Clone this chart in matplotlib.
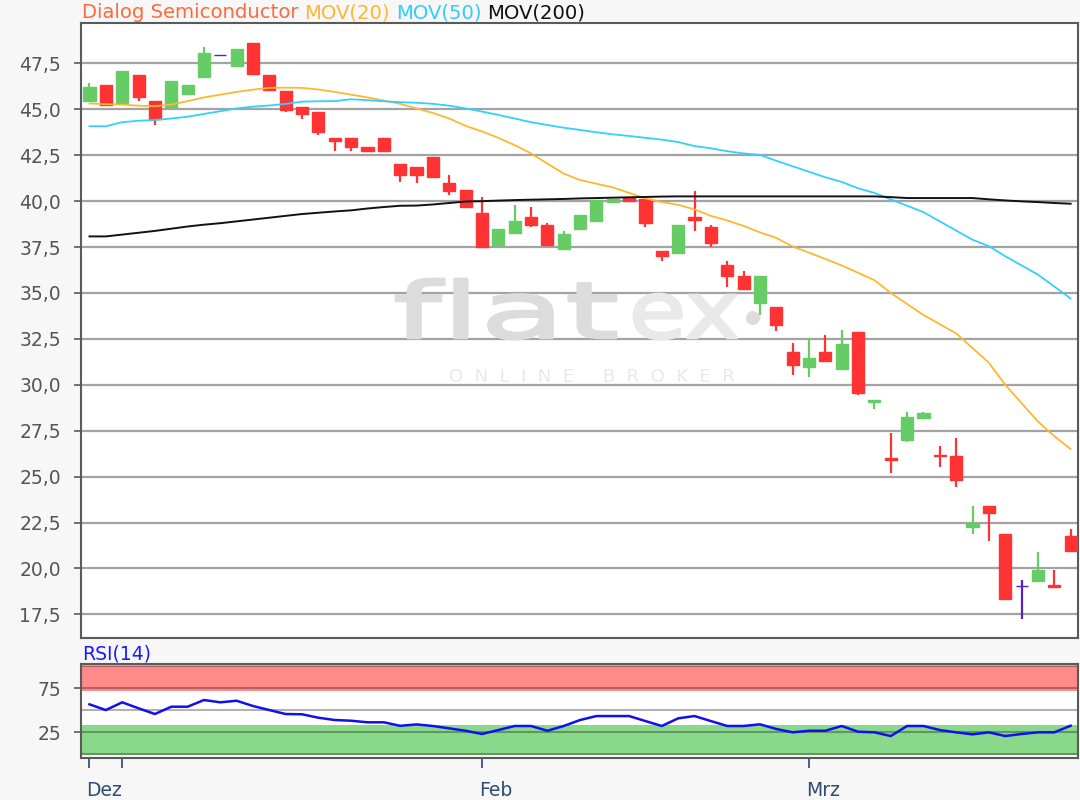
import numpy as np
import matplotlib
matplotlib.use("Agg")
import matplotlib.pyplot as plt
from matplotlib.textpath import TextPath
from matplotlib.patches import PathPatch, Ellipse
from matplotlib.font_manager import FontProperties
from matplotlib.transforms import Affine2D, ScaledTranslation

# ---------------- data ----------------
opens = [45.48, 46.32, 45.32, 46.86, 45.48, 45.15, 45.81, 46.77, 47.95, 47.34,
         48.63, 46.86, 45.99, 45.15, 44.83, 43.46, 43.46, 42.97, 43.46, 42.05,
         41.85, 42.39, 40.99, 40.63, 39.36, 37.59, 38.27, 39.12, 38.68, 37.41,
         38.50, 38.94, 39.93, 40.17, 40.12, 37.26, 37.17, 39.14, 38.57, 36.50,
         35.95, 34.48, 34.21, 31.81, 30.99, 31.81, 30.86, 32.90, 29.05, 26.00,
         26.99, 28.17, 26.20, 26.13, 22.26, 23.41, 21.86, 19.03, 19.30, 19.08,
         21.77]
highs = [46.46, 46.32, 47.08, 46.86, 45.48, 46.53, 46.32, 48.41, 47.95, 48.30,
         48.63, 46.86, 45.99, 45.15, 44.83, 43.46, 43.46, 42.97, 43.46, 42.05,
         41.85, 42.39, 41.45, 40.63, 40.22, 38.48, 39.78, 39.68, 38.81, 38.39,
         39.23, 40.08, 40.12, 40.17, 40.12, 37.26, 38.68, 40.53, 38.68, 36.72,
         36.17, 35.95, 34.21, 32.26, 32.54, 32.69, 32.99, 32.90, 29.17, 27.37,
         28.53, 28.53, 26.68, 27.12, 23.41, 23.41, 21.86, 19.39, 20.90, 19.94,
         22.12]
lows = [45.48, 45.23, 45.32, 45.48, 44.17, 45.15, 45.81, 46.77, 47.95, 47.34,
        46.90, 46.03, 44.83, 44.50, 43.63, 42.75, 42.75, 42.75, 42.75, 41.06,
        41.00, 41.32, 40.32, 39.68, 37.53, 37.59, 38.27, 38.59, 37.59, 37.41,
        38.50, 38.94, 39.93, 40.03, 38.59, 36.75, 37.17, 38.39, 37.53, 35.35,
        35.23, 33.81, 32.94, 30.54, 30.44, 31.30, 30.86, 29.45, 28.68, 25.17,
        26.90, 28.17, 25.53, 24.44, 21.90, 21.48, 18.36, 17.26, 19.30, 19.00,
        20.93]
closes = [46.21, 45.23, 47.08, 45.68, 44.45, 46.53, 46.32, 48.08, 47.95, 48.30,
          46.90, 46.03, 44.94, 44.72, 43.74, 43.30, 42.97, 42.75, 42.75, 41.45,
          41.45, 41.32, 40.57, 39.68, 37.53, 38.48, 38.90, 38.68, 37.59, 38.23,
          39.23, 40.08, 40.12, 40.03, 38.81, 36.99, 38.68, 38.95, 37.72, 35.90,
          35.23, 35.95, 33.26, 31.09, 31.48, 31.30, 32.23, 29.54, 29.17, 25.90,
          28.26, 28.44, 26.10, 24.80, 22.48, 23.03, 18.36, 19.03, 19.94, 19.00,
          20.93]

mov20 = [45.32, 45.28, 45.26, 45.20, 45.17, 45.26, 45.45, 45.65, 45.80, 45.95,
         46.07, 46.17, 46.18, 46.17, 46.08, 45.95, 45.80, 45.65, 45.48, 45.30,
         45.05, 44.80, 44.50, 44.10, 43.80, 43.45, 43.05, 42.60, 42.05, 41.50,
         41.15, 40.95, 40.75, 40.45, 40.15, 39.95, 39.80, 39.55, 39.20, 38.95,
         38.65, 38.30, 38.00, 37.53, 37.20, 36.85, 36.50, 36.10, 35.70, 35.00,
         34.40, 33.80, 33.30, 32.80, 32.00, 31.20, 30.00, 29.00, 28.00, 27.20,
         26.50]
mov50 = [44.08, 44.08, 44.30, 44.38, 44.42, 44.50, 44.60, 44.75, 44.90, 45.05,
         45.15, 45.21, 45.30, 45.42, 45.44, 45.45, 45.55, 45.50, 45.44, 45.39,
         45.36, 45.30, 45.20, 45.05, 44.88, 44.70, 44.50, 44.30, 44.15, 44.00,
         43.88, 43.75, 43.64, 43.55, 43.45, 43.35, 43.22, 43.00, 42.88, 42.72,
         42.60, 42.52, 42.20, 41.90, 41.60, 41.30, 41.05, 40.70, 40.45, 40.10,
         39.75, 39.40, 38.90, 38.40, 37.90, 37.55, 37.00, 36.50, 36.00, 35.35,
         34.70]
mov200 = [38.08, 38.08, 38.18, 38.28, 38.38, 38.50, 38.62, 38.72, 38.80, 38.90,
          39.00, 39.10, 39.20, 39.30, 39.37, 39.44, 39.50, 39.60, 39.68, 39.75,
          39.76, 39.82, 39.90, 39.98, 40.00, 40.03, 40.06, 40.08, 40.10, 40.12,
          40.15, 40.17, 40.19, 40.21, 40.23, 40.25, 40.26, 40.26, 40.26, 40.26,
          40.26, 40.26, 40.26, 40.26, 40.26, 40.26, 40.26, 40.26, 40.26, 40.22,
          40.17, 40.17, 40.17, 40.17, 40.17, 40.10, 40.04, 39.99, 39.95, 39.90,
          39.86]
rsi14 = [56.8, 50.3, 59.1, 52.3, 45.8, 54.1, 54.1, 61.7, 59.1, 60.9,
         54.9, 50.3, 45.8, 45.5, 41.6, 39.0, 38.2, 36.4, 36.4, 32.4,
         34.0, 32.2, 29.5, 26.8, 23.1, 27.6, 32.2, 32.2, 26.8, 32.2,
         39.0, 43.5, 43.5, 43.5, 37.8, 32.2, 40.9, 43.5, 37.8, 32.2,
         32.2, 34.1, 28.8, 25.0, 26.8, 26.8, 32.2, 25.7, 25.0, 20.8,
         32.2, 32.2, 27.6, 25.0, 22.7, 25.0, 20.8, 23.1, 25.0, 25.0,
         32.5]

date_tick_idx = [0, 2, 24, 44]
date_tick_labels = ["Dez", "", "Feb", "Mrz"]
price_ticks = [17.5, 20.0, 22.5, 25.0, 27.5, 30.0, 32.5, 35.0, 37.5, 40.0, 42.5, 45.0, 47.5]
rsi_ticks = [25, 75]
rsi_grid = [0, 25, 50, 75, 100]

title_parts = [("Dialog Semiconductor", "#ff6a3d"), ("MOV(20)", "#ffb732"),
               ("MOV(50)", "#33ccff"), ("MOV(200)", "#111111")]

# ---------------- style ----------------
plt.rcParams["font.family"] = ["DejaVu Sans"]
FS = 13.5
FS_TITLE = 14.1
BG = "#f7f7f7"
SPINE = "#5a5a5a"
GRID = "#a3a3a3"
RED = "#ff3333"
GREEN = "#66cc66"
DOJI = "#5520d0"

W, H = 1080, 800
fig = plt.figure(figsize=(W / 100, H / 100), dpi=100, facecolor=BG)

AX_L, AX_T, AX_R, AX_B = 80.5, 22.5, 1077.5, 638


def rect(l, t, r, b):
    return [l / W, (H - b) / H, (r - l) / W, (b - t) / H]


ax = fig.add_axes(rect(AX_L, AX_T, AX_R, AX_B))
ax2 = fig.add_axes(rect(AX_L, 664.3, AX_R, 758.3), sharex=ax)

x = np.arange(len(opens))
o = np.array(opens); c = np.array(closes)
h = np.array(highs); lo = np.array(lows)

colors = [GREEN if cc > oo else (RED if cc < oo else DOJI) for oo, cc in zip(o, c)]

ax.set_axisbelow(True)
ax.yaxis.grid(True, color=GRID, linewidth=1.6, zorder=0)
ax.vlines(x, lo, h, colors=colors, linewidth=1.6, zorder=3)
ax.bar(x, c - o, bottom=o, width=0.74, color=colors, edgecolor=colors,
       linewidth=1.0, zorder=4)

ax.plot(x, mov20, color="#ffb732", linewidth=1.3, zorder=5)
ax.plot(x, mov50, color="#33d0ff", linewidth=1.3, zorder=5)
ax.plot(x, mov200, color="#111111", linewidth=1.4, zorder=5)

ax.set_xlim(-0.55, 60.42)
ax.set_ylim(16.21, 49.73)
ax.set_yticks(price_ticks)
ax.set_yticklabels([f"{v:.1f}".replace(".", ",") for v in price_ticks])
ax.tick_params(axis="y", length=5, width=1.2, color=SPINE, labelcolor="#555555",
               labelsize=FS, pad=9)
ax.tick_params(axis="x", bottom=False, labelbottom=False)
for s in ax.spines.values():
    s.set_color(SPINE); s.set_linewidth(1.5)


# ---------------- watermark (fitted into pixel boxes) ----------------
def ax_frac(px, py):
    return (px - AX_L) / (AX_R - AX_L), (AX_B - py) / (AX_B - AX_T)


def fitted_text(s, box, color):
    fp = FontProperties(family="DejaVu Sans", weight="normal")
    tp = TextPath((0, 0), s, size=100, prop=fp)
    bb = tp.get_extents()
    x0, y0 = ax_frac(box[0], box[3])
    x1, y1 = ax_frac(box[2], box[1])
    tr = (Affine2D().translate(-bb.x0, -bb.y0)
          .scale((x1 - x0) / bb.width, (y1 - y0) / bb.height)
          .translate(x0, y0) + ax.transAxes)
    ax.add_patch(PathPatch(tp, transform=tr, facecolor=color, edgecolor=color,
                           linewidth=2.0, joinstyle="round", capstyle="round", zorder=1))


fitted_text("flat", (396, 279, 616, 339), "#dcdcdc")
fitted_text("ex", (634, 294, 737, 339), "#e9e9e9")
dx, dy = ax_frac(753, 318)
ax.add_patch(Ellipse((dx, dy), 14 / (AX_R - AX_L), 14 / (AX_B - AX_T),
                     transform=ax.transAxes, facecolor="#dcdcdc", edgecolor="none", zorder=1))
ax.text(ax_frac(592, 377)[0], ax_frac(592, 377)[1], "O  N  L  I  N  E     B  R  O  K  E  R",
        transform=ax.transAxes, fontsize=13, color="#e9e9e9", ha="center", va="center",
        zorder=1)

# ---------------- RSI panel ----------------
ax2.axhspan(72.5, 100.8, color="#ff8a8a", zorder=1, linewidth=0)
ax2.axhspan(-0.8, 33.0, color="#8ad88a", zorder=1, linewidth=0)
for g in rsi_grid:
    ax2.axhline(g, color="#000000", alpha=0.3, linewidth=1.5, zorder=2)
ax2.plot(x, rsi14, color="#1010ee", linewidth=1.8, zorder=4)
ax2.set_ylim(-4.5, 102.3)
ax2.set_yticks(rsi_ticks)
ax2.tick_params(axis="y", length=5, width=1.2, color=SPINE, labelcolor="#555555",
                labelsize=FS, pad=9)
ax2.set_xticks(date_tick_idx)
ax2.set_xticklabels(date_tick_labels, ha="left")
ax2.tick_params(axis="x", length=7, width=1.3, color="#3a5577", labelcolor="#2f4d70",
                labelsize=FS, pad=9)
shift = ScaledTranslation(-3 / 100, 0, fig.dpi_scale_trans)
for lab in ax2.get_xticklabels():
    lab.set_transform(lab.get_transform() + shift)
for s in ax2.spines.values():
    s.set_color(SPINE); s.set_linewidth(1.5)

# ---------------- title parts ----------------
fig.canvas.draw()
renderer = fig.canvas.get_renderer()
xpos = 82 / W
gap = 0.30 * FS_TITLE * 100 / 72 / W
for txt, col in title_parts:
    t = fig.text(xpos, 1 - 13 / H, txt, color=col, fontsize=FS_TITLE, va="center", ha="left")
    bb = t.get_window_extent(renderer)
    xpos += bb.width / W + gap

fig.text(82 / W, (H - 654) / H, "RSI(14)", color="#1a1aff", fontsize=FS,
         va="center", ha="left")

fig.savefig("out.png", dpi=100, facecolor=BG)
